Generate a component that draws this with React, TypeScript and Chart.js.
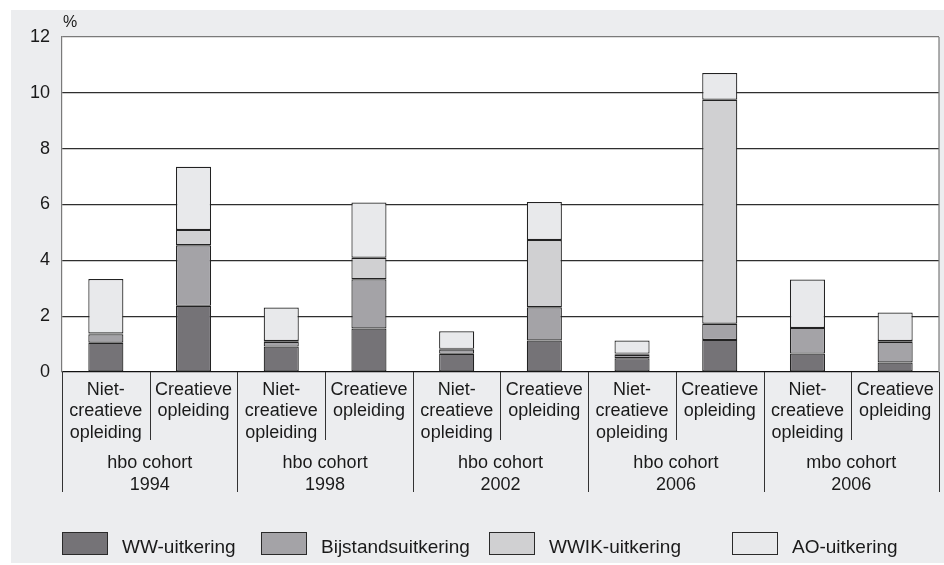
import React, { useEffect, useRef } from "react";
import { Chart, registerables } from "chart.js";

Chart.register(...registerables);

const categoryLabels: string[][] = [
  ["Niet-", "creatieve", "opleiding"],
  ["Creatieve", "opleiding"],
  ["Niet-", "creatieve", "opleiding"],
  ["Creatieve", "opleiding"],
  ["Niet-", "creatieve", "opleiding"],
  ["Creatieve", "opleiding"],
  ["Niet-", "creatieve", "opleiding"],
  ["Creatieve", "opleiding"],
  ["Niet-", "creatieve", "opleiding"],
  ["Creatieve", "opleiding"],
];

const groupLabels: string[][] = [
  ["hbo cohort", "1994"],
  ["hbo cohort", "1998"],
  ["hbo cohort", "2002"],
  ["hbo cohort", "2006"],
  ["mbo cohort", "2006"],
];

const wwUitkering = [1.05, 2.37, 0.91, 1.56, 0.65, 1.13, 0.49, 1.15, 0.66, 0.34];
const bijstandsuitkering = [0.3, 2.17, 0.17, 1.76, 0.15, 1.19, 0.13, 0.58, 0.92, 0.74];
const wwikUitkering = [0.03, 0.55, 0.03, 0.77, 0.03, 2.41, 0.04, 8.02, 0.0, 0.03];
const aoUitkering = [1.95, 2.26, 1.2, 1.98, 0.63, 1.36, 0.47, 0.96, 1.73, 1.02];

const seriesNames = ["WW-uitkering", "Bijstandsuitkering", "WWIK-uitkering", "AO-uitkering"];
const seriesColors = ["#757377", "#a4a3a7", "#d0d0d2", "#e8e9eb"];

const yTicks = [0, 2, 4, 6, 8, 10, 12];

const FONT = "'Liberation Sans', Arial, Helvetica, sans-serif";
const TEXT = "#1a1a1a";

const decorPlugin = {
  id: "decor",
  beforeDraw(chart: any) {
    const { ctx, chartArea, width, height } = chart;
    ctx.save();
    ctx.fillStyle = "#ffffff";
    ctx.fillRect(0, 0, width, height);
    ctx.fillStyle = "#ecedef";
    ctx.fillRect(11, 10, width - 11, height - 12);
    ctx.fillStyle = "#ffffff";
    ctx.fillRect(chartArea.left, chartArea.top, chartArea.right - chartArea.left, chartArea.bottom - chartArea.top);
    ctx.restore();
  },
  afterDraw(chart: any) {
    const { ctx, chartArea } = chart;
    const x = chart.scales.x;
    const half = (x.getPixelForValue(1) - x.getPixelForValue(0)) / 2;
    const start = x.getPixelForValue(0) - half;
    ctx.save();
    // right border
    ctx.strokeStyle = "#7a7a7a";
    ctx.lineWidth = 1.2;
    ctx.beginPath();
    ctx.moveTo(chartArea.right, chartArea.top);
    ctx.lineTo(chartArea.right, chartArea.bottom);
    ctx.stroke();
    // separators
    ctx.strokeStyle = "#333333";
    ctx.lineWidth = 1;
    for (let k = 0; k <= categoryLabels.length; k++) {
      const px = Math.round(start + k * 2 * half) + 0.5;
      const yEnd = k % 2 === 0 ? chartArea.bottom + 120 : chartArea.bottom + 68;
      ctx.beginPath();
      ctx.moveTo(px, chartArea.bottom);
      ctx.lineTo(px, yEnd);
      ctx.stroke();
    }
    // group labels
    ctx.fillStyle = TEXT;
    ctx.font = `18px ${FONT}`;
    ctx.textAlign = "center";
    ctx.textBaseline = "middle";
    groupLabels.forEach((lines, g) => {
      const cx = (x.getPixelForValue(2 * g) + x.getPixelForValue(2 * g + 1)) / 2;
      lines.forEach((t, i) => {
        ctx.fillText(t, cx, chartArea.bottom + 91 + i * 22);
      });
    });
    // percent label
    ctx.font = `16px ${FONT}`;
    ctx.textAlign = "left";
    ctx.fillText("%", chartArea.left + 1, chartArea.top - 14);
    // legend
    const legendX = [62, 261, 489, 732];
    ctx.font = `19px ${FONT}`;
    seriesNames.forEach((name, i) => {
      const bx = legendX[i];
      ctx.fillStyle = seriesColors[i];
      ctx.fillRect(bx, 532, 46, 23);
      ctx.strokeStyle = "#2a2a2a";
      ctx.lineWidth = 1;
      ctx.strokeRect(bx + 0.5, 532.5, 45, 22);
      ctx.fillStyle = TEXT;
      ctx.textAlign = "left";
      ctx.textBaseline = "middle";
      ctx.fillText(name, bx + 60, 548);
    });
    ctx.restore();
  },
};

export default function App() {
  const canvasRef = useRef<HTMLCanvasElement | null>(null);

  useEffect(() => {
    if (!canvasRef.current) return;
    const seriesValues = [wwUitkering, bijstandsuitkering, wwikUitkering, aoUitkering];
    const chart = new Chart(canvasRef.current, {
      type: "bar",
      data: {
        labels: categoryLabels,
        datasets: seriesNames.map((name, i) => ({
          label: name,
          data: seriesValues[i],
          backgroundColor: seriesColors[i],
          borderColor: "#222222",
          borderWidth: 1.2,
          borderSkipped: false,
          barPercentage: 0.4,
          categoryPercentage: 1,
        })),
      },
      options: {
        responsive: false,
        animation: false,
        layout: { padding: { top: 37, left: 0, right: 5, bottom: 0 } },
        plugins: {
          legend: { display: false },
          title: { display: false },
          tooltip: { enabled: false },
        },
        scales: {
          x: {
            stacked: true,
            grid: { display: false, drawTicks: false },
            border: { display: false },
            ticks: {
              padding: 7,
              color: TEXT,
              font: { family: FONT, size: 18, lineHeight: 1.2 },
              maxRotation: 0,
              autoSkip: false,
            },
            afterFit: (scale: any) => {
              scale.height = 193;
            },
          },
          y: {
            stacked: true,
            min: 0,
            max: 12,
            afterBuildTicks: (scale: any) => {
              scale.ticks = yTicks.map((v) => ({ value: v }));
            },
            grid: {
              drawTicks: false,
              lineWidth: 1.2,
              color: (c: any) =>
                c.tick && c.tick.value === 12 ? "#7a7a7a" : c.tick && c.tick.value === 0 ? "#111111" : "#2e2e2e",
            },
            border: { display: true, color: "#7a7a7a", width: 1.2 },
            ticks: {
              padding: 12,
              color: TEXT,
              font: { family: FONT, size: 18 },
            },
            afterFit: (scale: any) => {
              scale.width = 62;
            },
          },
        },
      },
      plugins: [decorPlugin],
    });
    return () => chart.destroy();
  }, []);

  return (
    <div style={{ position: "absolute", left: 0, top: 0, width: 944, height: 565 }}>
      <canvas ref={canvasRef} width={944} height={565} style={{ display: "block" }} />
    </div>
  );
}
